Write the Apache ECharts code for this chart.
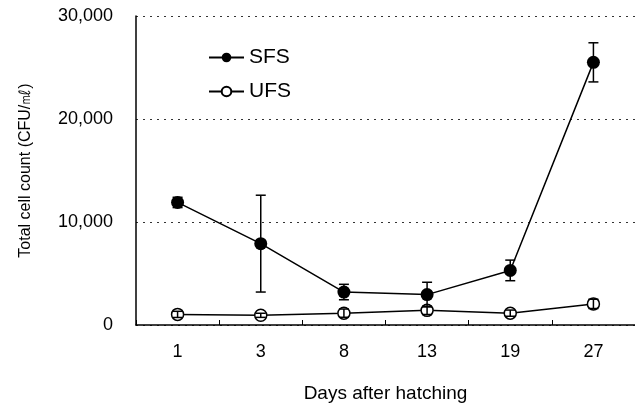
<!DOCTYPE html>
<html>
<head>
<meta charset="utf-8">
<script src="https://cdn.jsdelivr.net/npm/echarts@6/dist/echarts.min.js"></script>
<style>html,body{margin:0;padding:0;background:#fff;}#c{width:635px;height:408px;}</style>
</head>
<body>
<div id="c"></div>
<script>
const days = ['1', '3', '8', '13', '19', '27'];
const sfsMean = [11900, 7900, 3200, 2950, 5300, 25500];
const sfsErr = [500, 4700, 750, 1200, 1000, 1900];
const ufsMean = [1030, 940, 1150, 1420, 1150, 2050];
const ufsErr = [300, 200, 400, 400, 300, 450];
const yTicks = [0, 10000, 20000, 30000];

const FONT = '"Liberation Sans", Arial, sans-serif';

function errData(mean, err) {
  return mean.map((v, i) => [i, v - err[i], v + err[i]]);
}
function errRender(params, api) {
  const x = api.value(0);
  const lo = api.coord([x, api.value(1)]);
  const hi = api.coord([x, api.value(2)]);
  const w = 5;
  const st = { stroke: '#000', lineWidth: 1.5, fill: null };
  return {
    type: 'group',
    children: [
      { type: 'line', shape: { x1: hi[0], y1: hi[1], x2: lo[0], y2: lo[1] }, style: st },
      { type: 'line', shape: { x1: hi[0] - w, y1: hi[1], x2: hi[0] + w, y2: hi[1] }, style: st },
      { type: 'line', shape: { x1: lo[0] - w, y1: lo[1], x2: lo[0] + w, y2: lo[1] }, style: st }
    ]
  };
}

const chart = echarts.init(document.getElementById('c'), null, { renderer: 'canvas' });
chart.setOption({
  animation: false,
  backgroundColor: '#fff',
  textStyle: { fontFamily: FONT, color: '#000' },
  grid: { left: 136, top: 16, bottom: 81, width: 502 },
  legend: {
    data: ['SFS', 'UFS'],
    orient: 'vertical',
    left: 208,
    top: 47,
    padding: 0,
    itemWidth: 35,
    itemHeight: 12,
    itemGap: 13,
    textStyle: { fontSize: 21, color: '#000', fontFamily: FONT }
  },
  xAxis: {
    type: 'category',
    data: days,
    boundaryGap: true,
    name: 'Days after hatching',
    nameLocation: 'middle',
    nameGap: 59,
    nameTextStyle: { fontSize: 19, color: '#000', fontFamily: FONT },
    axisLine: { lineStyle: { color: '#000', width: 1.5 } },
    axisTick: { show: true, inside: true, length: 5, lineStyle: { color: '#000', width: 1 } },
    axisLabel: { fontSize: 18, color: '#000', margin: 18, fontFamily: FONT },
    splitLine: { show: false }
  },
  yAxis: {
    type: 'value',
    min: 0,
    max: 30000,
    interval: 10000,
    name: 'Total cell count (CFU/㎖)',
    nameLocation: 'middle',
    nameGap: 102,
    nameTextStyle: { fontSize: 16, color: '#000', fontFamily: FONT },
    axisLine: { show: true, lineStyle: { color: '#000', width: 1.5 } },
    axisTick: { show: false },
    axisLabel: {
      fontSize: 18, color: '#000', margin: 23, fontFamily: FONT,
      formatter: v => yTicks.includes(v) ? v.toLocaleString('en-US') : ''
    },
    splitLine: { show: true, lineStyle: { color: '#333', width: 1, type: [2, 5] } }
  },
  series: [
    {
      name: 'SFS', type: 'line', data: sfsMean,
      symbol: 'circle', symbolSize: 13,
      lineStyle: { color: '#000', width: 1.5 },
      itemStyle: { color: '#000', borderColor: '#000', borderWidth: 0 },
      z: 3
    },
    {
      name: 'UFS', type: 'line', data: ufsMean,
      symbol: 'circle', symbolSize: 12,
      lineStyle: { color: '#000', width: 1.5 },
      itemStyle: { color: '#fff', borderColor: '#000', borderWidth: 1.5 },
      z: 3
    },
    {
      name: 'SFS err', type: 'custom', data: errData(sfsMean, sfsErr),
      renderItem: errRender, encode: { x: 0, y: [1, 2] }, z: 4, silent: true
    },
    {
      name: 'UFS err', type: 'custom', data: errData(ufsMean, ufsErr),
      renderItem: errRender, encode: { x: 0, y: [1, 2] }, z: 4, silent: true
    }
  ]
});
</script>
</body>
</html>
